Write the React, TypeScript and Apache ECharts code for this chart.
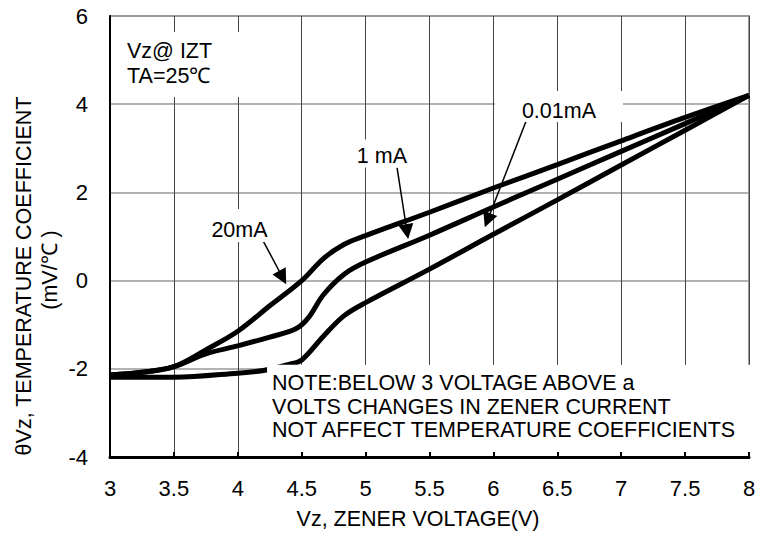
import React, { useEffect, useRef } from "react";
import * as echarts from "echarts";

// ---- Data ----
const xTickValues = [3, 3.5, 4, 4.5, 5, 5.5, 6, 6.5, 7, 7.5, 8];
const yTickValues = [-4, -2, 0, 2, 4, 6];

const curve20mA: [number, number][] = [
  [3, -2.14], [3.25, -2.08], [3.5, -1.95], [3.75, -1.57], [4, -1.15],
  [4.25, -0.57], [4.5, 0], [4.67, 0.5], [4.83, 0.82], [5, 1.02],
  [5.5, 1.55], [6, 2.1], [6.5, 2.63], [7, 3.17], [7.5, 3.7], [8, 4.2],
];
const curve1mA: [number, number][] = [
  [3, -2.14], [3.25, -2.08], [3.5, -1.95], [3.75, -1.66], [4, -1.48],
  [4.25, -1.28], [4.45, -1.1], [4.55, -0.85], [4.67, -0.32], [4.83, 0.14],
  [5, 0.42], [5.5, 1.03], [6, 1.67], [6.5, 2.3], [7, 2.93], [7.5, 3.56], [8, 4.2],
];
const curve001mA: [number, number][] = [
  [3, -2.19], [3.5, -2.19], [4, -2.1], [4.2, -2.04], [4.4, -1.9],
  [4.5, -1.8], [4.67, -1.26], [4.83, -0.8], [5, -0.5], [5.5, 0.26],
  [6, 1.05], [6.5, 1.83], [7, 2.62], [7.5, 3.41], [8, 4.2],
];

const arrowFrom: [number, number][] = [[4.197, 0.907], [5.246, 2.56], [6.263, 3.67]];
const arrowTo: [number, number][] = [[4.351, 0.07], [5.324, 1.11], [5.954, 1.37]];

const curveLabels = ["20mA", "1 mA", "0.01mA"];
const curveLabelAt: [number, number][] = [[4.013, 1.157], [5.128, 2.834], [6.513, 3.855]];

const conditionLines = ["Vz@ IZT", "TA=25\u2103"];
const noteLines = [
  "NOTE:BELOW 3 VOLTAGE ABOVE a",
  "VOLTS CHANGES IN ZENER CURRENT",
  "NOT AFFECT TEMPERATURE COEFFICIENTS",
];
const xAxisTitle = "Vz, ZENER VOLTAGE(V)";
const yAxisTitle = ["\u03b8Vz, TEMPERATURE COEFFICIENT", "(mV/\u2103 )"];

export default function App() {
  const ref = useRef<HTMLDivElement>(null);
  useEffect(() => {
    const chart = echarts.init(ref.current!, null, { renderer: "svg" });
    const font = "'Liberation Sans', Arial, sans-serif";
    const fs = 21.5;
    const tickFs = 22;

    chart.setOption({
      animation: false,
      backgroundColor: "#fff",
      grid: {
        left: 110, right: 28, top: 16, bottom: 83,
        show: true, borderColor: "#9a9a9a", borderWidth: 2, backgroundColor: "transparent",
      },
      xAxis: {
        type: "value", min: xTickValues[0], max: xTickValues[xTickValues.length - 1], interval: 0.5,
        axisLine: { show: true, onZero: false, lineStyle: { color: "#000", width: 3 } },
        axisTick: { show: true, inside: true, length: 5, lineStyle: { color: "#000", width: 2 } },
        axisLabel: { color: "#000", fontSize: tickFs, fontFamily: font, margin: 20 },
        splitLine: { show: true, lineStyle: { color: "#444", width: 1 } },
      },
      yAxis: {
        type: "value", min: yTickValues[0], max: yTickValues[yTickValues.length - 1], interval: 2,
        axisLine: { show: true, onZero: false, lineStyle: { color: "#000", width: 2 } },
        axisTick: { show: false },
        axisLabel: { color: "#000", fontSize: tickFs, fontFamily: font, margin: 22 },
        splitLine: { show: true, lineStyle: { color: "#999", width: 1.5 } },
      },
      series: [curve20mA, curve1mA, curve001mA].map((d, i) => ({
        type: "line",
        name: curveLabels[i],
        data: d,
        smooth: 0.35,
        showSymbol: false,
        symbol: "none",
        lineStyle: { color: "#000", width: 5 },
        z: 3,
        markLine: i === 0 ? {
          silent: true,
          symbol: ["none", "triangle"],
          symbolSize: 15,
          label: { show: false },
          lineStyle: { color: "#000", width: 1.5, type: "solid" },
          itemStyle: { color: "#000" },
          data: arrowFrom.map((f, k) => [{ coord: f }, { coord: arrowTo[k] }]),
        } : undefined,
      })),
    });

    const px = (p: [number, number]) => chart.convertToPixel({ gridIndex: 0 }, p) as number[];
    const graphic: any[] = [];
    const Z = 50;
    const txt = (x: number, y: number, text: string, align = "left", extra: any = {}, size = fs) => ({
      type: "text", x, y, z: Z + 1,
      style: { text, fill: "#000", fontSize: size, fontFamily: font, textAlign: align, textVerticalAlign: "middle" },
      ...extra,
    });

    // label boxes (white backgrounds that hide grid lines)
    const boxSize: [number, number][] = [[66, 33], [64, 28], [128, 31]];
    const boxShift = [-4, -2, -4];
    curveLabels.forEach((t, i) => {
      const [cx, cy] = px(curveLabelAt[i]);
      const [w, h] = boxSize[i];
      graphic.push({ type: "rect", z: Z, shape: { x: cx - w / 2, y: cy - h / 2 + boxShift[i], width: w, height: h }, style: { fill: "#fff" } });
      graphic.push(txt(cx, cy, t, "center"));
    });

    // condition box
    const [lx, ly] = px([3, 6]);
    graphic.push({ type: "rect", z: Z, shape: { x: lx + 3, y: ly + 16, width: 132, height: 65 }, style: { fill: "#fff" } });
    conditionLines.forEach((t, i) => graphic.push(txt(lx + 17, ly + 35 + i * 25, t)));

    // note box
    const [nx, ny] = px([4.268, -2.0]);
    const [rx, by] = px([8, -4]);
    graphic.push({ type: "rect", z: Z, shape: { x: nx - 5, y: ny - 4, width: rx + 2 - (nx - 5), height: by - 5 - (ny - 4) }, style: { fill: "#fff" } });
    noteLines.forEach((t, i) => graphic.push(txt(nx, ny + 14.5 + i * 23.5, t)));

    // axis titles
    graphic.push(txt(418, 519, xAxisTitle, "center"));
    graphic.push(txt(24, 276, yAxisTitle[0], "center", { rotation: Math.PI / 2 }));
    graphic.push(txt(50, 270, yAxisTitle[1], "center", { rotation: Math.PI / 2 }));

    chart.setOption({ graphic });
    return () => chart.dispose();
  }, []);
  return <div ref={ref} style={{ position: "fixed", left: 0, top: 0, width: 777, height: 540 }} />;
}
